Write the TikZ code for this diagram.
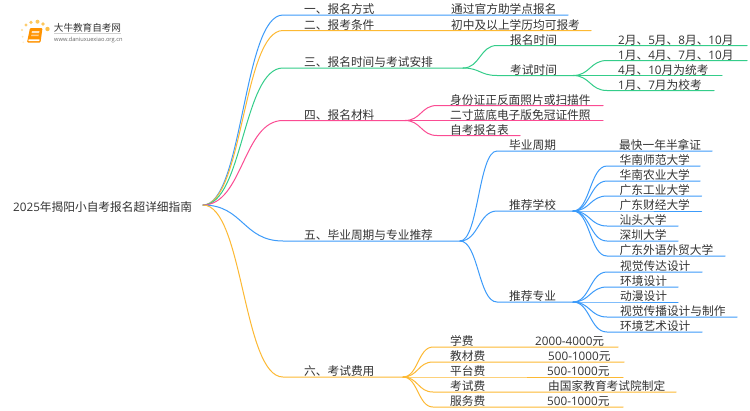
\documentclass[tikz,border=0pt]{standalone}
\usepackage{fontspec}
\setmainfont{Noto Sans CJK SC}
\newfontfamily\latfont{Open Sans}
\usetikzlibrary{calc}
\newcommand\dg[1]{{\latfont #1}}
\definecolor{cblue}{HTML}{3C9BFA}
\definecolor{corange}{HTML}{FDB933}
\definecolor{cgreen}{HTML}{34CD8A}
\definecolor{cpink}{HTML}{FB4C93}
\definecolor{ctext}{HTML}{333333}
\tikzset{
  bez/.style={to path={.. controls ($(\tikztostart)!0.5!(\tikztotarget |- \tikztostart)$) and ($(\tikztotarget)!0.5!(\tikztostart |- \tikztotarget)$) .. (\tikztotarget)}},
  conn/.style={line width=1pt,line cap=round},
  lbl/.style={anchor=base west,inner sep=0pt,text=ctext,font=\fontsize{11.7}{14}\selectfont}
}
% name, parent, curve-end x, y, line-end x, colour
\newcommand\lnk[6]{\coordinate (#1a) at (#3,#4); \coordinate (#1b) at (#5,#4); \draw[conn,#6] (#2) to[bez] (#1a) -- (#1b);}
% name, x, line y, text
\newcommand\lab[4]{\node[lbl] (#1) at (#2,#3-1.2) {#4};}
\begin{document}
\begin{tikzpicture}[x=1pt,y=-1pt]
\useasboundingbox (0,0) rectangle (750,410);
\fill[white] (0,0) rectangle (750,410);
% logo
\foreach \px/\py/\pr/\po in {22/30/1.2/.5,26/25/1.6/.7,31/22.3/1.8/.8,37.5/21.7/2/.8,43/24/1.8/.8,47.5/29/2.2/.9,22.7/36.7/1/.35,23.3/42.3/.9/.2}{
  \fill[corange,opacity=\po] (\px,\py) circle (\pr);
}
\fill[rounded corners=1pt,fill=orange!85!yellow] (30,28) -- (42.5,28) -- (40.5,42.5) -- (27,42.5) -- cycle;
\fill[rounded corners=.6pt,fill=white] (28.5,39.4) -- (39.8,39.4) -- (39.4,41) -- (28.3,41) -- cycle;
\fill[fill=white,opacity=.75] (32,31) -- (39.5,31) -- (39,33) -- (31.6,33) -- cycle;
\fill[fill=white,opacity=.55] (31.4,34.5) -- (38.8,34.5) -- (38.5,36) -- (31.1,36) -- cycle;
\node[anchor=base west,inner sep=0pt,text=ctext,font=\fontsize{9.6}{11}\selectfont] (logoa) at (53.7,31) {大牛教育自考网};
\draw[black!18,line width=.5pt] (54,33.3) -- (121,33.3);
\node[anchor=base west,inner sep=0pt,text=black!60,font=\fontsize{5.7}{7}\selectfont] (logob) at (54,41) {\dg{www.daniuxuexiao.org.cn}};
% root
\node[lbl] (root) at (13,211) {\dg{2025}年揭阳小自考报名超详细指南};
\coordinate (r) at (203,205);
% main branches
\lnk{a}{r}{283}{15}{568}{cblue}
\lnk{b}{r}{283}{30.5}{591}{corange}
\lnk{c}{r}{283}{68}{463}{cgreen}
\lnk{d}{r}{283}{120.5}{405}{cpink}
\lnk{e}{r}{283}{241}{460}{cblue}
\lnk{f}{r}{283}{377}{403}{corange}
\lab{at}{304}{15}{一、报名方式}
\lab{bt}{304}{30.5}{二、报考条件}
\lab{ct}{304}{68}{三、报名时间与考试安排}
\lab{dt}{304}{120.5}{四、报名材料}
\lab{et}{304}{241}{五、毕业周期与专业推荐}
\lab{ft}{304}{377}{六、考试费用}
\lab{a1t}{451}{15}{通过官方助学点报名}
\lab{b1t}{451}{30.5}{初中及以上学历均可报考}
% three
\lnk{ca}{cb}{497}{45.5}{747}{cgreen}
\lnk{cc}{cb}{497}{75.5}{573}{cgreen}
\lab{cat}{510}{45.5}{报名时间}
\lab{cct}{510}{75.5}{考试时间}
\lab{ca1}{618}{45.5}{\dg{2}月、\dg{5}月、\dg{8}月、\dg{10}月}
\lnk{c1}{ccb}{607}{60.5}{747}{cgreen}
\lnk{c2}{ccb}{607}{75.5}{722}{cgreen}
\lnk{c3}{ccb}{607}{90.5}{714}{cgreen}
\lab{c1t}{618}{60.5}{\dg{1}月、\dg{4}月、\dg{7}月、\dg{10}月}
\lab{c2t}{618}{75.5}{\dg{4}月、\dg{10}月为统考}
\lab{c3t}{618}{90.5}{\dg{1}月、\dg{7}月为校考}
% four
\lnk{d1}{db}{437}{105.5}{603}{cpink}
\lnk{d2}{db}{437}{120.5}{603}{cpink}
\lnk{d3}{db}{437}{135.5}{520}{cpink}
\lab{d1t}{450}{105.5}{身份证正反面照片或扫描件}
\lab{d2t}{450}{120.5}{二寸蓝底电子版免冠证件照}
\lab{d3t}{450}{135.5}{自考报名表}
% five
\lnk{e1}{eb}{497}{151}{712}{cblue}
\lnk{e2}{eb}{497}{211}{573}{cblue}
\lnk{e3}{eb}{497}{302}{573}{cblue}
\lab{e1t}{509}{151}{毕业周期}
\lab{e2t}{509}{211}{推荐学校}
\lab{e3t}{509}{302}{推荐专业}
\lab{e1r}{619}{151}{最快一年半拿证}
\lnk{s1}{e2b}{607}{166}{700}{cblue}
\lnk{s2}{e2b}{607}{181}{700}{cblue}
\lnk{s3}{e2b}{607}{196}{701.5}{cblue}
\lnk{s4}{e2b}{607}{211}{701.5}{cblue}
\lnk{s5}{e2b}{607}{226}{678}{cblue}
\lnk{s6}{e2b}{607}{241}{678}{cblue}
\lnk{s7}{e2b}{607}{256}{725}{cblue}
\lab{s1t}{619.5}{166}{华南师范大学}
\lab{s2t}{619.5}{181}{华南农业大学}
\lab{s3t}{619.5}{196}{广东工业大学}
\lab{s4t}{619.5}{211}{广东财经大学}
\lab{s5t}{619.5}{226}{汕头大学}
\lab{s6t}{619.5}{241}{深圳大学}
\lab{s7t}{619.5}{256}{广东外语外贸大学}
\lnk{m1}{e3b}{607}{272}{702}{cblue}
\lnk{m2}{e3b}{607}{287}{678}{cblue}
\lnk{m3}{e3b}{607}{302}{678}{cblue}
\lnk{m4}{e3b}{607}{317}{737}{cblue}
\lnk{m5}{e3b}{607}{332}{702}{cblue}
\lab{m1t}{620}{272}{视觉传达设计}
\lab{m2t}{620}{287}{环境设计}
\lab{m3t}{620}{302}{动漫设计}
\lab{m4t}{620}{317}{视觉传播设计与制作}
\lab{m5t}{620}{332}{环境艺术设计}
% six
\lnk{f1}{fb}{433}{347}{618}{corange}
\lnk{f2}{fb}{433}{362}{624}{corange}
\lnk{f3}{fb}{433}{377}{623}{corange}
\lnk{f4}{fb}{433}{392}{676}{corange}
\lnk{f5}{fb}{433}{407}{623}{corange}
\lab{f1t}{450}{347}{学费}
\lab{f2t}{450}{362}{教材费}
\lab{f3t}{450}{377}{平台费}
\lab{f4t}{450}{392}{考试费}
\lab{f5t}{450}{407}{服务费}
\lab{f1r}{535}{347}{\dg{2000-4000}元}
\lab{f2r}{548}{362}{\dg{500-1000}元}
\lab{f3r}{547}{377}{\dg{500-1000}元}
\lab{f4r}{548}{392}{由国家教育考试院制定}
\lab{f5r}{547}{407}{\dg{500-1000}元}
\end{tikzpicture}
\end{document}
